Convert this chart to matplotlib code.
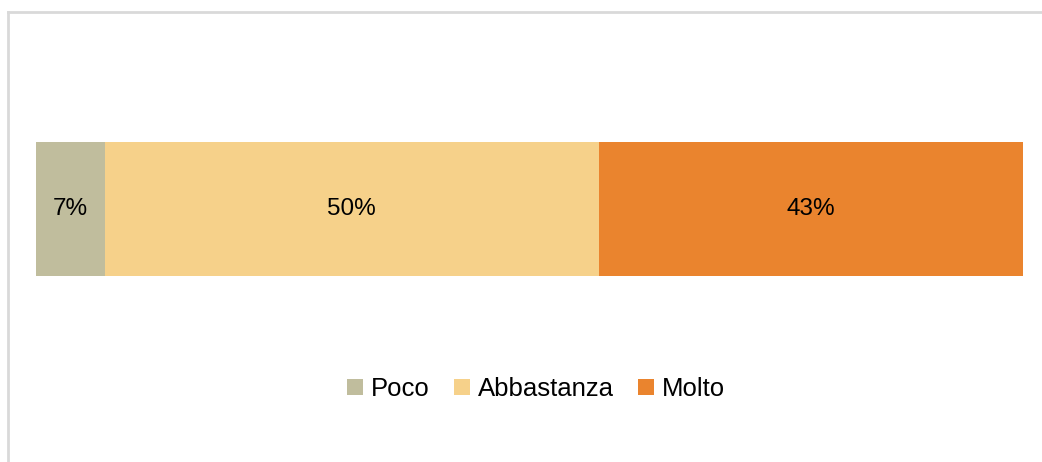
import matplotlib
matplotlib.use("Agg")
import matplotlib.pyplot as plt
from matplotlib.lines import Line2D

# Data
categories = ["Poco", "Abbastanza", "Molto"]
shares = [7, 50, 43]
colors = ["#C0BD9D", "#F6D18A", "#EA842E"]

plt.rcParams['font.family'] = ['Liberation Sans', 'DejaVu Sans']
FS = 17.5
LEG_FS = 18.5

W, H = 1042, 462
fig = plt.figure(figsize=(W / 100, H / 100), dpi=100)

# axes spans exactly the bar
ax = fig.add_axes([36 / W, 1 - 276 / H, (1023 - 36) / W, (276 - 142) / H])

left = 0
for cat, val, col in zip(categories, shares, colors):
    ax.barh(0, val, left=left, height=1, color=col, label=cat)
    ax.text(left + val / 2, 0, f"{val}%", ha="center", va="center",
            fontsize=FS, color="black")
    left += val

ax.set_xlim(0, sum(shares))
ax.set_ylim(-0.5, 0.5)
ax.axis("off")

fig.legend(loc="center", bbox_to_anchor=(536 / W, 1 - 389 / H), ncol=3,
           frameon=False, fontsize=LEG_FS, handlelength=0.62, handleheight=0.62,
           handletextpad=0.3, columnspacing=0.95)

# light grey outer border (left and top only visible)
border = "#D9D9D9"
fig.add_artist(Line2D([8 / W, 8 / W], [0, 1 - 12 / H], transform=fig.transFigure,
                      color=border, lw=2))
fig.add_artist(Line2D([8 / W, 1], [1 - 12 / H, 1 - 12 / H], transform=fig.transFigure,
                      color=border, lw=2))

fig.savefig("out.png", dpi=100)
